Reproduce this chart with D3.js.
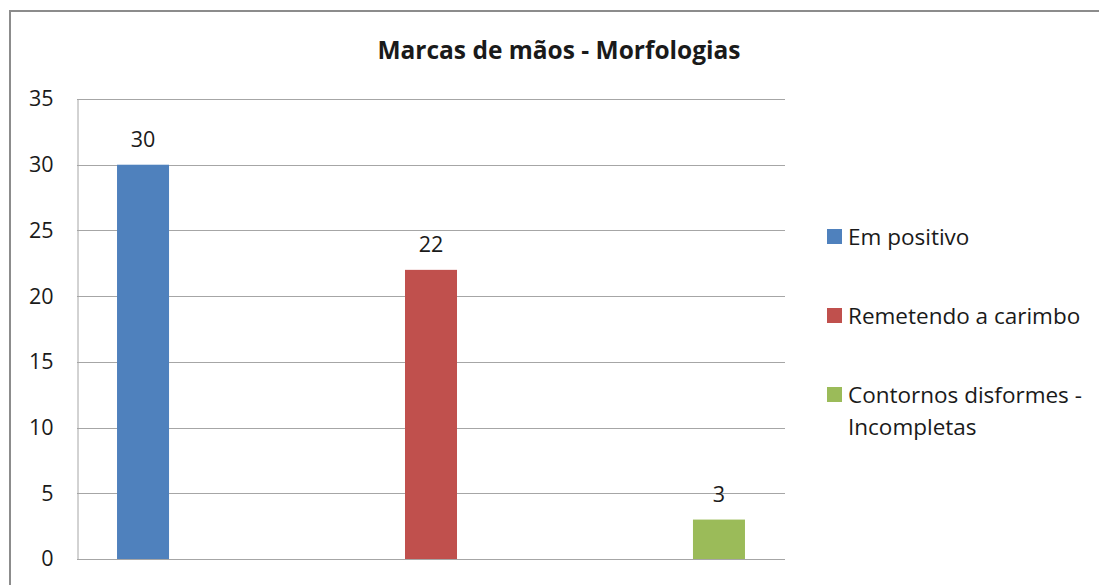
<!DOCTYPE html>
<html>
<head>
<meta charset="utf-8">
<script src="https://cdn.jsdelivr.net/npm/d3@7"></script>
<style>
  html, body { margin: 0; padding: 0; background: #fff; }
  svg { display: block; }
  text { font-family: "Open Sans", "Noto Sans", sans-serif; fill: #1a1a1a; }
</style>
</head>
<body>
<svg id="chart" width="1099" height="585"></svg>
<script>
// Hand-print morphologies: one bar per series
const series = ["Em positivo", "Remetendo a carimbo", "Contornos disformes - Incompletas"];
const legendLines = [["Em positivo"], ["Remetendo a carimbo"], ["Contornos disformes -", "Incompletas"]];
const values = [30, 22, 3];
const colors = ["#4F81BD", "#C0504D", "#9BBB59"];
const yTicks = [0, 5, 10, 15, 20, 25, 30, 35];
const title = "Marcas de mãos - Morfologias";

const svg = d3.select("#chart");

// outer chart frame (extends past the right and bottom edges)
svg.append("rect")
  .attr("x", 10).attr("y", 11)
  .attr("width", 1200).attr("height", 700)
  .attr("fill", "none").attr("stroke", "#8c8c8c").attr("stroke-width", 2);

const plot = { left: 77, right: 785, top: 99, bottom: 559 };

const y = d3.scaleLinear().domain([0, 35]).range([plot.bottom, plot.top]);
const x = d3.scaleBand().domain(series).range([plot.left, plot.right])
  .paddingInner(0.8194).paddingOuter(0.139);

// gridlines
svg.append("g").selectAll("line").data(yTicks).join("line")
  .attr("x1", plot.left).attr("x2", plot.right)
  .attr("y1", d => Math.round(y(d)) + 0.5).attr("y2", d => Math.round(y(d)) + 0.5)
  .attr("stroke", "#a6a6a6").attr("stroke-width", 1);

// y axis
const yAxis = d3.axisLeft(y).tickValues(yTicks).tickSize(0).tickPadding(24);
const gy = svg.append("g").attr("transform", `translate(${plot.left + 0.5},0)`).call(yAxis);
gy.select(".domain").attr("stroke", "#a6a6a6");
gy.selectAll("text").attr("font-size", 21.5).attr("font-family", "'Open Sans', sans-serif").attr("fill", "#1a1a1a");

// bars
svg.append("g").selectAll("rect").data(series).join("rect")
  .attr("x", d => x(d))
  .attr("width", x.bandwidth())
  .attr("y", (d, i) => y(values[i]))
  .attr("height", (d, i) => y(0) - y(values[i]))
  .attr("fill", (d, i) => colors[i]);

// bottom axis line
svg.append("line")
  .attr("x1", plot.left).attr("x2", plot.right)
  .attr("y1", plot.bottom + 0.5).attr("y2", plot.bottom + 0.5)
  .attr("stroke", "#a6a6a6");

// value labels
svg.append("g").selectAll("text").data(series).join("text")
  .attr("x", d => x(d) + x.bandwidth() / 2)
  .attr("y", (d, i) => y(values[i]) - 18)
  .attr("text-anchor", "middle")
  .attr("font-size", 21.5)
  .text((d, i) => values[i]);

// title
svg.append("text")
  .attr("x", 559).attr("y", 59)
  .attr("text-anchor", "middle")
  .attr("font-size", 24.5).attr("font-weight", "bold")
  .text(title);

// legend
const legendY = [237, 316, 395];
const lg = svg.append("g").selectAll("g").data(series).join("g")
  .attr("transform", (d, i) => `translate(827,${legendY[i]})`);
lg.append("rect")
  .attr("x", 0).attr("y", -8).attr("width", 15).attr("height", 15)
  .attr("fill", (d, i) => colors[i]);
lg.append("text")
  .attr("x", 21).attr("y", 8)
  .attr("font-size", 22.5)
  .selectAll("tspan").data((d, i) => legendLines[i]).join("tspan")
  .attr("x", 21).attr("dy", (d, j) => j === 0 ? 0 : 32)
  .text(d => d);
</script>
</body>
</html>
